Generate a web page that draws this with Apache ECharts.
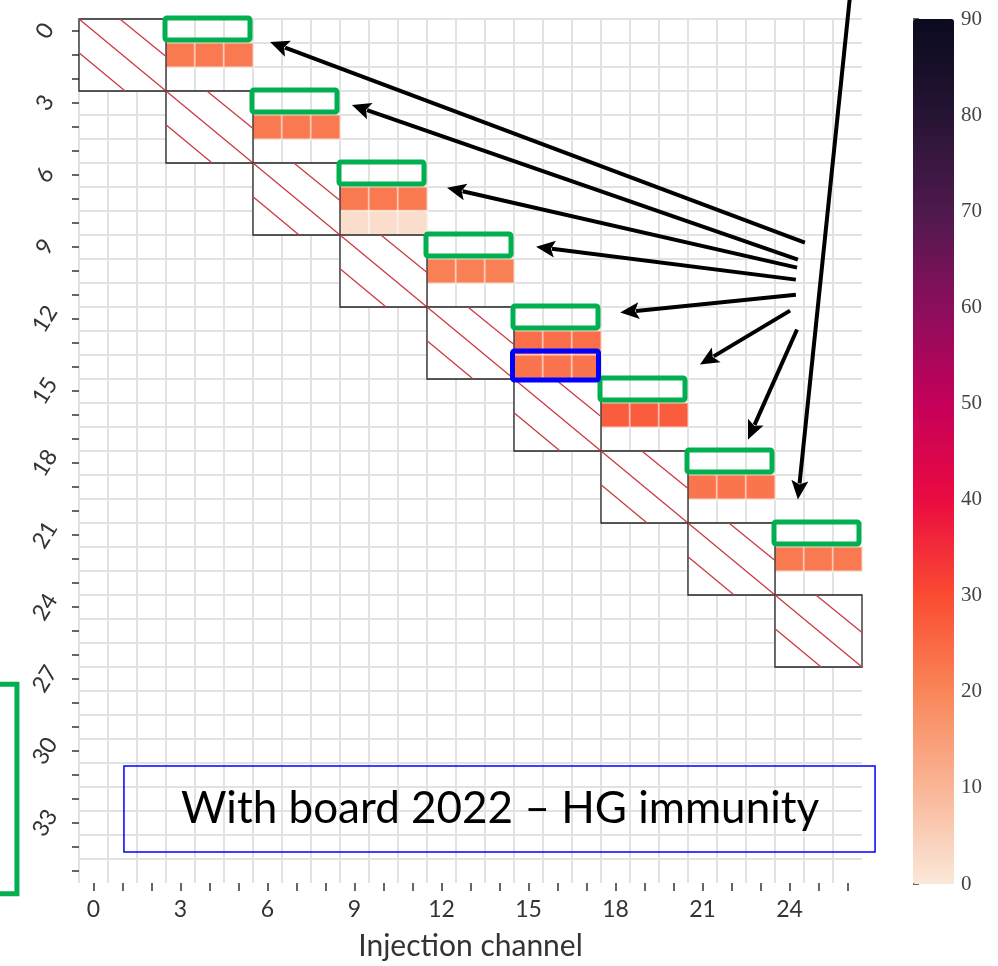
<!DOCTYPE html>
<html>
<head>
<meta charset="utf-8">
<script src="https://cdn.jsdelivr.net/npm/echarts@6/dist/echarts.min.js"></script>
</head>
<body style="margin:0;background:#fff">
<div id="container" style="width:998px;height:966px"></div>
<script type="text/javascript">

// injection channels (x) and readout channels (y)
var xChannels = ['0','1','2','3','4','5','6','7','8','9','10','11','12','13','14','15','16','17','18','19','20','21','22','23','24','25','26'];
var yChannels = ['0','1','2','3','4','5','6','7','8','9','10','11','12','13','14','15','16','17','18','19','20','21','22','23','24','25','26','27','28','29','30','31','32','33','34','35'];

// measured cross-talk rows: row index, first column, three values
var hitRows  = [1, 4, 7, 8, 10, 13, 14, 16, 19, 22];
var hitCols  = [3, 6, 9, 9, 12, 15, 15, 18, 21, 24];
var hitVals  = [[22,22,22],[22,22,22],[22,22,22],[2,2,2],[21,21,21],[24,24,24],[23,23,23],[27,27,27],[23,23,23],[22,22,22]];

// hatched (injected) 3x3 blocks on the diagonal
var blockStarts = [0, 3, 6, 9, 12, 15, 18, 21, 24];

// highlighted rows
var greenRows = [0, 3, 6, 9, 12, 15, 18, 21];
var greenCols = [3, 6, 9, 12, 15, 18, 21, 24];
var blueRow = 14, blueCol = 15;

// arrows in cell units: [tailCol, tailRow, tipCol, tipRow]
var arrows = [
  [24.53, 8.82, 6.09, 0.46],
  [24.29, 9.53, 8.91, 3.08],
  [24.26, 9.86, 12.19, 6.53],
  [24.22, 10.36, 15.26, 8.99],
  [24.22, 10.99, 18.16, 11.73],
  [24.02, 11.65, 20.91, 13.90],
  [24.26, 12.44, 22.57, 17.02],
  [26.09, -1.50, 24.29, 19.52]
];

// colour scale (0 .. 90)
var scaleColors = ['#fbe7d9','#f9b596','#f98659','#fb4b31','#ea0b41','#c5005a','#8b0e5c','#4e1a4d','#261434','#0a0a1f'];

var cells = [];
hitRows.forEach(function (r, i) {
  hitVals[i].forEach(function (v, k) {
    cells.push([hitCols[i] + k, r, v]);
  });
});
var blocks = blockStarts.map(function (b) { return [b, b]; });

var dom = document.getElementById('container');
var myChart = echarts.init(dom);
var sans = 'Lato';

var option = {
  animation: false,
  grid: [
    {left: 79, top: 19, width: 783, height: 865},
    {left: 913, top: 19, width: 41, height: 865}
  ],
  xAxis: [{
    type: 'category',
    data: xChannels,
    name: 'Injection channel',
    nameLocation: 'middle',
    nameGap: 48,
    nameTextStyle: {fontFamily: sans, fontSize: 30, color: '#333'},
    axisLine: {show: false},
    axisTick: {show: true, interval: 0, alignWithLabel: true, length: 8, lineStyle: {color: '#333', width: 1.5}},
    axisLabel: {interval: 2, fontFamily: sans, fontSize: 23, color: '#333', margin: 15},
    splitLine: {show: true, interval: 0, showMaxLine: false, lineStyle: {color: '#e2e2e2', width: 2}}
  }, {
    gridIndex: 1, type: 'value', show: false, min: 0, max: 1
  }],
  yAxis: [{
    type: 'category',
    data: yChannels,
    inverse: true,
    axisLine: {show: false},
    axisTick: {show: true, interval: 0, alignWithLabel: true, length: 7, lineStyle: {color: '#333', width: 1.5}},
    axisLabel: {interval: 2, rotate: 58, align: 'center', verticalAlign: 'middle', fontFamily: sans, fontSize: 23, color: '#333', margin: 34},
    splitLine: {show: true, interval: 0, showMaxLine: false, lineStyle: {color: '#e2e2e2', width: 2}}
  }, {
    gridIndex: 1, type: 'value', position: 'right', min: 0, max: 90, interval: 10,
    axisLine: {show: false},
    axisTick: {show: true, length: 6, lineStyle: {color: '#333', width: 1.5}},
    axisLabel: {fontFamily: 'Liberation Serif', fontSize: 21, color: '#444', margin: 7},
    splitLine: {show: false}
  }],
  visualMap: {
    type: 'continuous',
    min: 0, max: 90,
    seriesIndex: 0,
    orient: 'vertical',
    left: 913, top: 19,
    itemWidth: 41, itemHeight: 865,
    padding: 0,
    calculable: false,
    text: null,
    inRange: {color: scaleColors}
  },
  series: [{
    type: 'heatmap',
    data: cells,
    itemStyle: {borderColor: 'rgba(255,255,255,0.45)', borderWidth: 2},
    z: 2
  }, {
    type: 'custom',
    data: blocks,
    z: 3,
    renderItem: function (params, api) {
      var c = api.coord([api.value(0), api.value(1)]);
      var s = api.size([1, 1]);
      var x = c[0] - s[0] / 2, y = c[1] - s[1] / 2, w = s[0] * 3, h = s[1] * 3;
      var red = {stroke: '#cc3a44', lineWidth: 1.3};
      return {
        type: 'group',
        children: [
          {type: 'rect', shape: {x: x, y: y, width: w, height: h}, style: {fill: '#fff', stroke: '#222', lineWidth: 1.3}},
          {type: 'line', shape: {x1: x, y1: y, x2: x + w, y2: y + h}, style: red},
          {type: 'line', shape: {x1: x + 0.47 * w, y1: y, x2: x + w, y2: y + 0.52 * h}, style: red},
          {type: 'line', shape: {x1: x, y1: y + 0.47 * h, x2: x + 0.53 * w, y2: y + h}, style: red}
        ]
      };
    }
  }]
};
myChart.setOption(option);

// cell units -> pixels, using the heatmap axes
var p0 = myChart.convertToPixel({gridIndex: 0}, [0, 0]);
var p1 = myChart.convertToPixel({gridIndex: 0}, [1, 1]);
var cw = p1[0] - p0[0], ch = p1[1] - p0[1];
function px(c, r) { return [p0[0] + c * cw, p0[1] + r * ch]; }

var gfx = [];
function box(col, row, ncol, color) {
  var a = px(col - 0.5, row - 0.5);
  return {type: 'rect', z: 10, shape: {x: a[0] - 1, y: a[1] - 1, width: ncol * cw - 2, height: ch - 2, r: 2},
          style: {fill: 'none', stroke: color, lineWidth: 5}};
}
greenRows.forEach(function (r, i) { gfx.push(box(greenCols[i], r, 3, '#00b050')); });
var bb = px(blueCol - 0.5, blueRow - 0.5);
gfx.push({type: 'rect', z: 10, shape: {x: bb[0] - 1.5, y: bb[1] - 4, width: 3 * cw - 1, height: ch + 5, r: 2},
          style: {fill: 'none', stroke: '#0000ff', lineWidth: 5}});

arrows.forEach(function (a) {
  var t = px(a[0], a[1]), h = px(a[2], a[3]);
  var dx = h[0] - t[0], dy = h[1] - t[1], L = Math.sqrt(dx * dx + dy * dy);
  var ux = dx / L, uy = dy / L, hl = 19, hw = 8.5;
  var bx = h[0] - ux * hl, by = h[1] - uy * hl;
  gfx.push({type: 'line', z: 11, shape: {x1: t[0], y1: t[1], x2: bx + ux * 3, y2: by + uy * 3}, style: {stroke: '#000', lineWidth: 4}});
  gfx.push({type: 'polygon', z: 11, shape: {points: [[h[0], h[1]], [bx - uy * hw, by + ux * hw], [bx + ux * 4, by + uy * 4], [bx + uy * hw, by - ux * hw]]}, style: {fill: '#000'}});
});

// caption box
var tb0 = px(1.05, 30.63), tb1 = px(26.95, 34.21), tc = px(14.02, 32.42);
gfx.push({type: 'rect', z: 12, shape: {x: tb0[0], y: tb0[1], width: tb1[0] - tb0[0], height: tb1[1] - tb0[1]},
          style: {fill: 'none', stroke: '#0000ff', lineWidth: 1.5}});
gfx.push({type: 'text', z: 12, x: tc[0], y: tc[1],
          style: {text: 'With board 2022 \u2013 HG immunity', font: '44px Lato', fill: '#000', align: 'center', verticalAlign: 'middle'}});

// green bracket on the left edge
var g0 = px(-3.3, 27.22), g1 = px(-2.64, 35.95);
gfx.push({type: 'polyline', z: 12, shape: {points: [[g0[0], g0[1]], [g1[0], g0[1]], [g1[0], g1[1]], [g0[0], g1[1]]]},
          style: {fill: 'none', stroke: '#00b050', lineWidth: 5}});

myChart.setOption({graphic: gfx});
</script>
</body>
</html>
